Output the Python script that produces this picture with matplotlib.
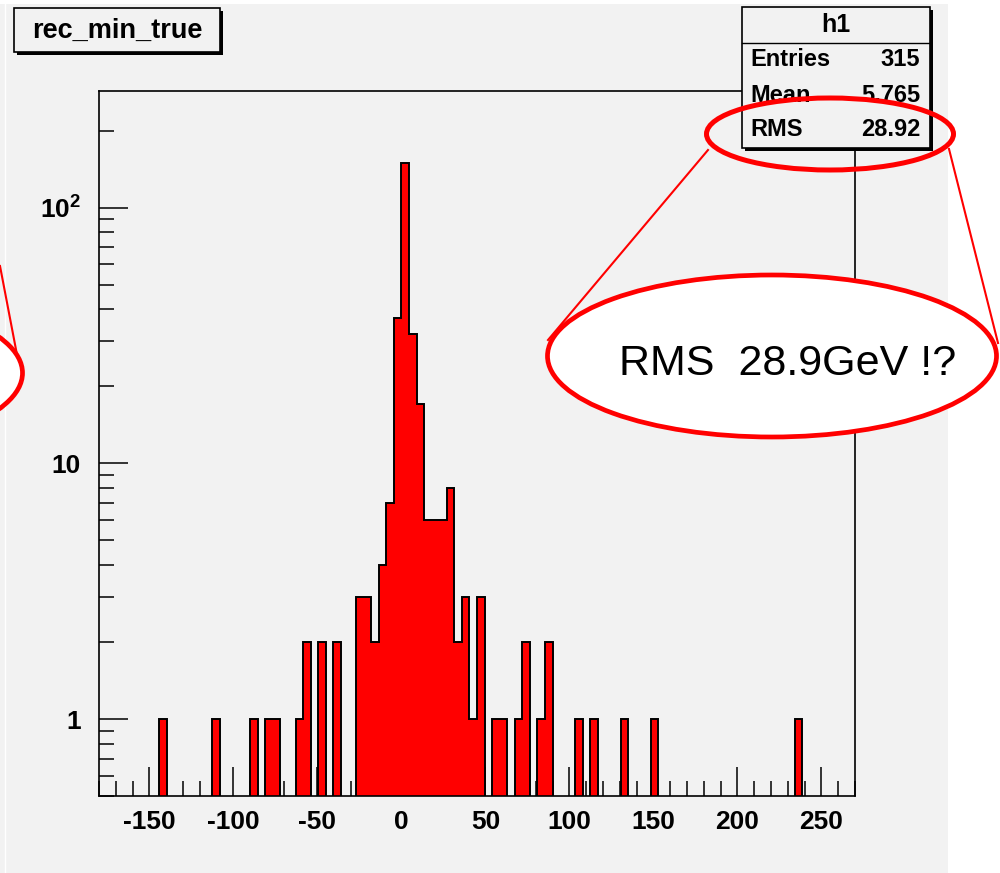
#!/usr/bin/env python3
"""ROOT-style histogram rec_min_true with a red call-out on the RMS."""

import matplotlib

matplotlib.use("Agg")
import matplotlib.pyplot as plt
import numpy as np
from matplotlib.patches import Ellipse, Rectangle
from matplotlib.ticker import FixedLocator, FuncFormatter, LogLocator, MultipleLocator

plt.rcParams["font.family"] = ["Liberation Sans", "DejaVu Sans"]
plt.rcParams["font.weight"] = "bold"
plt.rcParams["axes.unicode_minus"] = False
plt.rcParams["mathtext.fontset"] = "custom"
plt.rcParams["mathtext.rm"] = "Liberation Sans:bold"
plt.rcParams["mathtext.bf"] = "Liberation Sans:bold"

W, H = 1000, 873
BG = "#f2f2f2"
RED = "#ff0000"

# histogram h1: 100 bins on [-180, 270]
X_LO, X_HI, N_BINS = -180.0, 270.0, 100
COUNTS = [
    0, 0, 0, 0, 0, 0, 0, 0, 1, 0,
    0, 0, 0, 0, 0, 1, 0, 0, 0, 0,
    1, 0, 1, 1, 0, 0, 1, 2, 0, 2,
    0, 2, 0, 0, 3, 3, 2, 4, 7, 37,
    150, 32, 17, 6, 6, 6, 8, 2, 3, 1,
    3, 0, 1, 1, 0, 1, 2, 0, 1, 2,
    0, 0, 0, 1, 0, 1, 0, 0, 0, 1,
    0, 0, 0, 1, 0, 0, 0, 0, 0, 0,
    0, 0, 0, 0, 0, 0, 0, 0, 0, 0,
    0, 0, 1, 0, 0, 0, 0, 0, 0, 0,
]
Y_MIN, Y_MAX = 0.5, 286.0
X_MAJOR = [-150, -100, -50, 0, 50, 100, 150, 200, 250]
Y_LABELS = {1: "1", 10: "10", 100: r"$\mathbf{10^{2}}$"}

TITLE = "rec_min_true"
STATS_NAME = "h1"
STATS = [("Entries", "315"), ("Mean", "5.765"), ("RMS", "28.92")]
NOTE = "RMS  28.9GeV !?"


def px(x0, y0, x1, y1):
    """figure-pixel box (top-left origin) -> add_axes rect"""
    return [x0 / W, 1 - y1 / H, (x1 - x0) / W, (y1 - y0) / H]


def shadow_box(ax, x0, y0, x1, y1):
    ax.add_patch(Rectangle((x0 + 3, y0 + 3), x1 - x0, y1 - y0, facecolor="black",
                           edgecolor="none", zorder=2))
    ax.add_patch(Rectangle((x0, y0), x1 - x0, y1 - y0, facecolor=BG,
                           edgecolor="black", linewidth=1.2, zorder=3))


def main() -> None:
    fig = plt.figure(figsize=(W / 100, H / 100), dpi=100, facecolor=BG)

    ax = fig.add_axes(px(99, 91, 855, 796))
    ax.set_facecolor(BG)
    edges = np.linspace(X_LO, X_HI, N_BINS + 1)
    vals = np.array(COUNTS, dtype=float)
    vals[vals == 0] = 0.1  # empty bins sit below the frame
    ax.stairs(vals, edges, baseline=0.1, fill=True, color=RED, zorder=2)
    ax.stairs(vals, edges, baseline=0.1, color="black", linewidth=1.4, zorder=3)

    ax.set_yscale("log")
    ax.set_xlim(X_LO, X_HI)
    ax.set_ylim(Y_MIN, Y_MAX)
    ax.xaxis.set_major_locator(FixedLocator(X_MAJOR))
    ax.xaxis.set_minor_locator(MultipleLocator(10))
    ax.yaxis.set_major_locator(FixedLocator(list(Y_LABELS)))
    ax.yaxis.set_minor_locator(LogLocator(base=10, subs=np.arange(2, 10)))
    ax.yaxis.set_major_formatter(FuncFormatter(lambda v, _: Y_LABELS.get(int(round(v)), "")))
    ax.yaxis.set_minor_formatter(FuncFormatter(lambda v, _: ""))
    ax.xaxis.set_major_formatter(FuncFormatter(lambda v, _: f"{int(v)}"))

    ax.tick_params(which="both", direction="in", top=False, right=False, width=1.1)
    ax.tick_params(which="major", length=21, labelsize=19)
    ax.tick_params(which="minor", length=11)
    ax.tick_params(axis="x", which="major", pad=10)
    ax.tick_params(axis="y", which="major", pad=13)
    for s in ax.spines.values():
        s.set_linewidth(1.2)

    # overlay in figure pixels for the ROOT boxes and the hand-drawn call-out
    ov = fig.add_axes([0, 0, 1, 1])
    ov.set_xlim(0, W)
    ov.set_ylim(H, 0)
    ov.axis("off")

    ov.add_patch(Rectangle((948, 0), W - 948, H, facecolor="white", edgecolor="none"))
    ov.add_patch(Rectangle((0, 0), W, 4, facecolor="white", edgecolor="none"))
    ov.plot([5, 5], [0, H], color="white", linewidth=1.0)

    shadow_box(ov, 14, 8, 220, 52)
    ov.text(117, 31, TITLE, fontsize=19.5, ha="center", va="center", zorder=4)

    shadow_box(ov, 742, 7, 930, 148)
    ov.plot([742, 930], [43, 43], color="black", linewidth=1.0, zorder=4)
    ov.text(836, 25, STATS_NAME, fontsize=18, ha="center", va="center", zorder=4)
    for i, (name, val) in enumerate(STATS):
        y = 60 + 35 * i
        ov.text(750, y, name, fontsize=17, ha="left", va="center", zorder=4)
        ov.text(920, y, val, fontsize=17, ha="right", va="center", zorder=4)

    # red call-out
    ov.plot([708, 548], [150, 340], color=RED, linewidth=1.5, zorder=5)
    ov.plot([949, 998], [149, 343], color=RED, linewidth=1.5, zorder=5)
    ov.plot([0, 18], [266, 360], color=RED, linewidth=1.5, zorder=5)
    ov.add_patch(Ellipse((830, 134), 247, 72, facecolor="none", edgecolor=RED,
                         linewidth=3.6, zorder=6))
    ov.add_patch(Ellipse((772, 356), 449, 162, facecolor="white", edgecolor=RED,
                         linewidth=3.4, zorder=6))
    ov.add_patch(Ellipse((-202, 373), 449, 162, facecolor="white", edgecolor=RED,
                         linewidth=3.4, zorder=6))
    ov.text(788, 364, NOTE, fontsize=31, fontweight="normal",
            ha="center", va="center", zorder=7)

    fig.savefig("out.png", dpi=100, facecolor=BG)


if __name__ == "__main__":
    main()
